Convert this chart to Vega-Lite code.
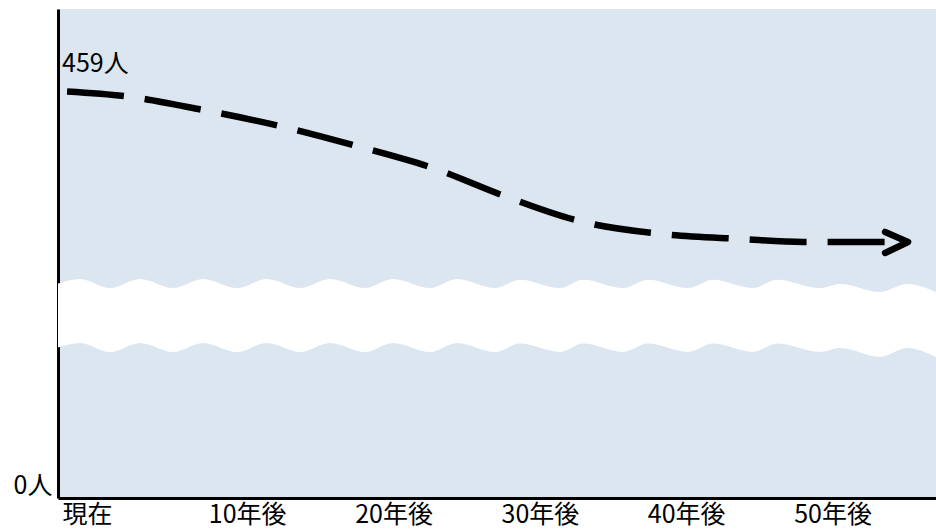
{
  "$schema": "https://vega.github.io/schema/vega-lite/v6.json",
  "autosize": {"type": "none"},
  "padding": {"left": 58, "top": 9, "right": 0, "bottom": 33},
  "width": 878,
  "height": 489,
  "background": "white",
  "config": {
    "view": {"fill": "#DCE6F0", "stroke": null},
    "font": "Noto Sans CJK JP"
  },
  "datasets": {
    "wave": [
      {"year": 0, "top": 242, "bottom": 170},
      {"year": 1.5, "top": 247.2, "bottom": 175.0},
      {"year": 3.55, "top": 237.0, "bottom": 164.8},
      {"year": 5.6, "top": 247.2, "bottom": 175.0},
      {"year": 7.86, "top": 237.0, "bottom": 164.8},
      {"year": 9.91, "top": 247.2, "bottom": 175.0},
      {"year": 12.23, "top": 237.0, "bottom": 164.8},
      {"year": 14.28, "top": 247.2, "bottom": 175.0},
      {"year": 16.54, "top": 237.0, "bottom": 164.8},
      {"year": 18.59, "top": 247.2, "bottom": 175.0},
      {"year": 20.98, "top": 237.0, "bottom": 164.8},
      {"year": 22.89, "top": 247.2, "bottom": 175.0},
      {"year": 25.42, "top": 237.0, "bottom": 164.8},
      {"year": 27.27, "top": 247.2, "bottom": 175.0},
      {"year": 29.86, "top": 237.0, "bottom": 164.8},
      {"year": 31.57, "top": 246.5, "bottom": 174.3},
      {"year": 34.31, "top": 237.0, "bottom": 164.8},
      {"year": 35.88, "top": 246.5, "bottom": 174.3},
      {"year": 38.61, "top": 237.0, "bottom": 164.8},
      {"year": 40.32, "top": 246.5, "bottom": 174.3},
      {"year": 43.05, "top": 237.0, "bottom": 164.8},
      {"year": 44.76, "top": 246.5, "bottom": 174.3},
      {"year": 47.5, "top": 237.0, "bottom": 164.8},
      {"year": 49.14, "top": 246.5, "bottom": 174.3},
      {"year": 52.07, "top": 237.0, "bottom": 164.8},
      {"year": 53.44, "top": 241.6, "bottom": 169.3},
      {"year": 56.17, "top": 232.5, "bottom": 159.2},
      {"year": 58.02, "top": 241.6, "bottom": 169.3},
      {"year": 60, "top": 232.5, "bottom": 159.2}
    ],
    "line": [
      {"year": 0.62, "value": 459},
      {"year": 4.51, "value": 453.8},
      {"year": 9.91, "value": 438.0},
      {"year": 15.17, "value": 419.8},
      {"year": 20.43, "value": 397.2},
      {"year": 25.63, "value": 372.4},
      {"year": 30.68, "value": 339.8},
      {"year": 35.88, "value": 311.6},
      {"year": 41.21, "value": 298.1},
      {"year": 46.68, "value": 292.4},
      {"year": 50.91, "value": 289.0},
      {"year": 58.09, "value": 289.0}
    ],
    "arrow": [
      {"o": 0, "year": 56.52, "value": 300.3},
      {"o": 1, "year": 58.09, "value": 289.0},
      {"o": 2, "year": 56.52, "value": 276.6}
    ],
    "label": [
      {"year": 0, "value": 459, "text": "459人"}
    ]
  },
  "layer": [
    {
      "data": {"name": "wave"},
      "mark": {"type": "area", "color": "white", "interpolate": "monotone", "opacity": 1},
      "encoding": {
        "x": {
          "field": "year",
          "type": "quantitative",
          "scale": {"domain": [0, 60], "nice": false, "zero": false},
          "axis": {
            "title": null,
            "values": [0, 10, 20, 30, 40, 50],
            "labelExpr": "datum.value == 0 ? '現在' : datum.value + '年後'",
            "labelAlign": "left",
            "labelBaseline": "top",
            "labelOffset": 4,
            "labelPadding": 4,
            "labelFontSize": 25,
            "labelColor": "black",
            "labelFlush": false,
            "labelOverlap": false,
            "ticks": false,
            "grid": false,
            "domainColor": "black",
            "domainWidth": 3
          }
        },
        "y": {
          "field": "top",
          "type": "quantitative",
          "scale": {"domain": [0, 552], "nice": false, "zero": false},
          "axis": {
            "title": null,
            "values": [0],
            "labelExpr": "'0人'",
            "labelAlign": "right",
            "labelBaseline": "bottom",
            "labelPadding": 6,
            "labelFontSize": 25,
            "labelColor": "black",
            "labelFlush": false,
            "ticks": false,
            "grid": false,
            "domainColor": "black",
            "domainWidth": 3
          }
        },
        "y2": {"field": "bottom"}
      }
    },
    {
      "data": {"name": "line"},
      "mark": {"type": "line", "color": "black", "strokeWidth": 6.5, "strokeDash": [57, 21], "interpolate": "monotone"},
      "encoding": {
        "x": {"field": "year", "type": "quantitative"},
        "y": {"field": "value", "type": "quantitative"}
      }
    },
    {
      "data": {"name": "arrow"},
      "mark": {"type": "line", "color": "black", "strokeWidth": 6.5, "strokeCap": "round", "strokeJoin": "round"},
      "encoding": {
        "x": {"field": "year", "type": "quantitative"},
        "y": {"field": "value", "type": "quantitative"},
        "order": {"field": "o", "type": "quantitative"}
      }
    },
    {
      "data": {"name": "label"},
      "mark": {"type": "text", "align": "left", "baseline": "alphabetic", "dx": 4, "dy": -19, "fontSize": 25, "color": "black"},
      "encoding": {
        "x": {"field": "year", "type": "quantitative"},
        "y": {"field": "value", "type": "quantitative"},
        "text": {"field": "text"}
      }
    }
  ]
}
